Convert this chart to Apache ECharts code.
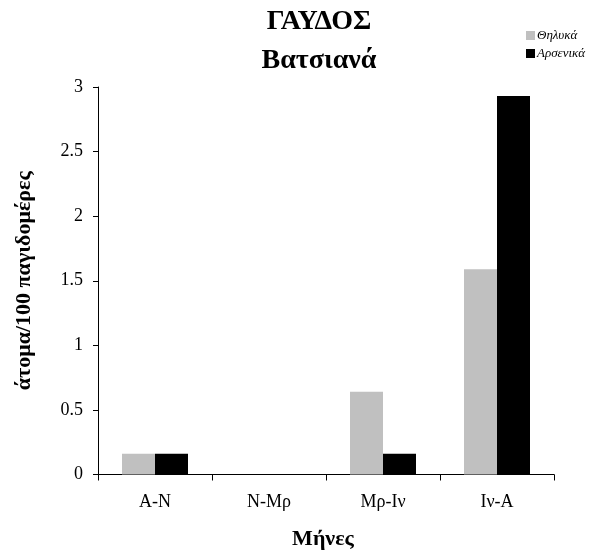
<!DOCTYPE html>
<html>
<head>
<meta charset="utf-8">
<script src="https://cdn.jsdelivr.net/npm/echarts@6/dist/echarts.min.js"></script>
<style>
  html, body { margin: 0; padding: 0; background: #fff; }
  #chart { width: 594px; height: 557px; }
</style>
</head>
<body>
<div id="chart"></div>
<script>
// Periods of the trapping season
const months = ['A-N', 'N-Mρ', 'Mρ-Iν', 'Iν-A'];
// Captures per 100 trap-days
const females = [0.16, 0, 0.64, 1.59];
const males = [0.16, 0, 0.16, 2.93];
const yTicks = [0, 0.5, 1, 1.5, 2, 2.5, 3];

const serif = '"Liberation Serif", "DejaVu Serif", serif';

const chart = echarts.init(document.getElementById('chart'), null, { renderer: 'canvas' });
chart.setOption({
  animation: false,
  backgroundColor: '#ffffff',
  title: {
    text: 'ΓΑΥΔΟΣ\nΒατσιανά',
    left: 314,
    top: -3,
    textAlign: 'center',
    textStyle: {
      fontFamily: serif,
      fontWeight: 'bold',
      fontSize: 28,
      color: '#000',
      lineHeight: 39
    }
  },
  legend: {
    orient: 'vertical',
    left: 521,
    top: 24,
    itemWidth: 9,
    itemHeight: 9,
    itemGap: 5,
    icon: 'rect',
    textStyle: {
      fontFamily: serif,
      fontStyle: 'italic',
      fontSize: 13,
      color: '#000',
      padding: [0, 0, 0, -3]
    },
    data: ['Θηλυκά', 'Αρσενικά']
  },
  grid: {
    left: 98,
    right: 40,
    top: 87,
    bottom: 82.5,
    containLabel: false
  },
  xAxis: {
    type: 'category',
    data: months,
    boundaryGap: true,
    name: 'Μήνες',
    nameLocation: 'middle',
    nameGap: 54,
    nameTextStyle: {
      fontFamily: serif,
      fontWeight: 'bold',
      fontSize: 22,
      color: '#000',
      padding: [0, 6, 0, 0]
    },
    axisLine: { show: true, lineStyle: { color: '#000', width: 1 } },
    axisTick: { show: true, alignWithLabel: false, length: 6, lineStyle: { color: '#000' } },
    axisLabel: {
      fontFamily: serif,
      fontSize: 18,
      color: '#000',
      margin: 19
    }
  },
  yAxis: {
    type: 'value',
    min: yTicks[0],
    max: yTicks[yTicks.length - 1],
    interval: 0.5,
    name: 'άτομα/100 παγιδομέρες',
    nameLocation: 'middle',
    nameGap: 63,
    nameRotate: 90,
    nameTextStyle: {
      fontFamily: serif,
      fontWeight: 'bold',
      fontSize: 22,
      color: '#000'
    },
    axisLine: { show: true, lineStyle: { color: '#000', width: 1 } },
    axisTick: { show: true, inside: false, length: 5, lineStyle: { color: '#000' } },
    splitLine: { show: false },
    axisLabel: {
      fontFamily: serif,
      fontSize: 18,
      color: '#000',
      margin: 15
    }
  },
  series: [
    {
      name: 'Θηλυκά',
      type: 'bar',
      data: females,
      barWidth: 33,
      barGap: '0%',
      itemStyle: { color: '#c0c0c0' }
    },
    {
      name: 'Αρσενικά',
      type: 'bar',
      data: males,
      barWidth: 33,
      barGap: '0%',
      itemStyle: { color: '#000000' }
    }
  ]
});
</script>
</body>
</html>
